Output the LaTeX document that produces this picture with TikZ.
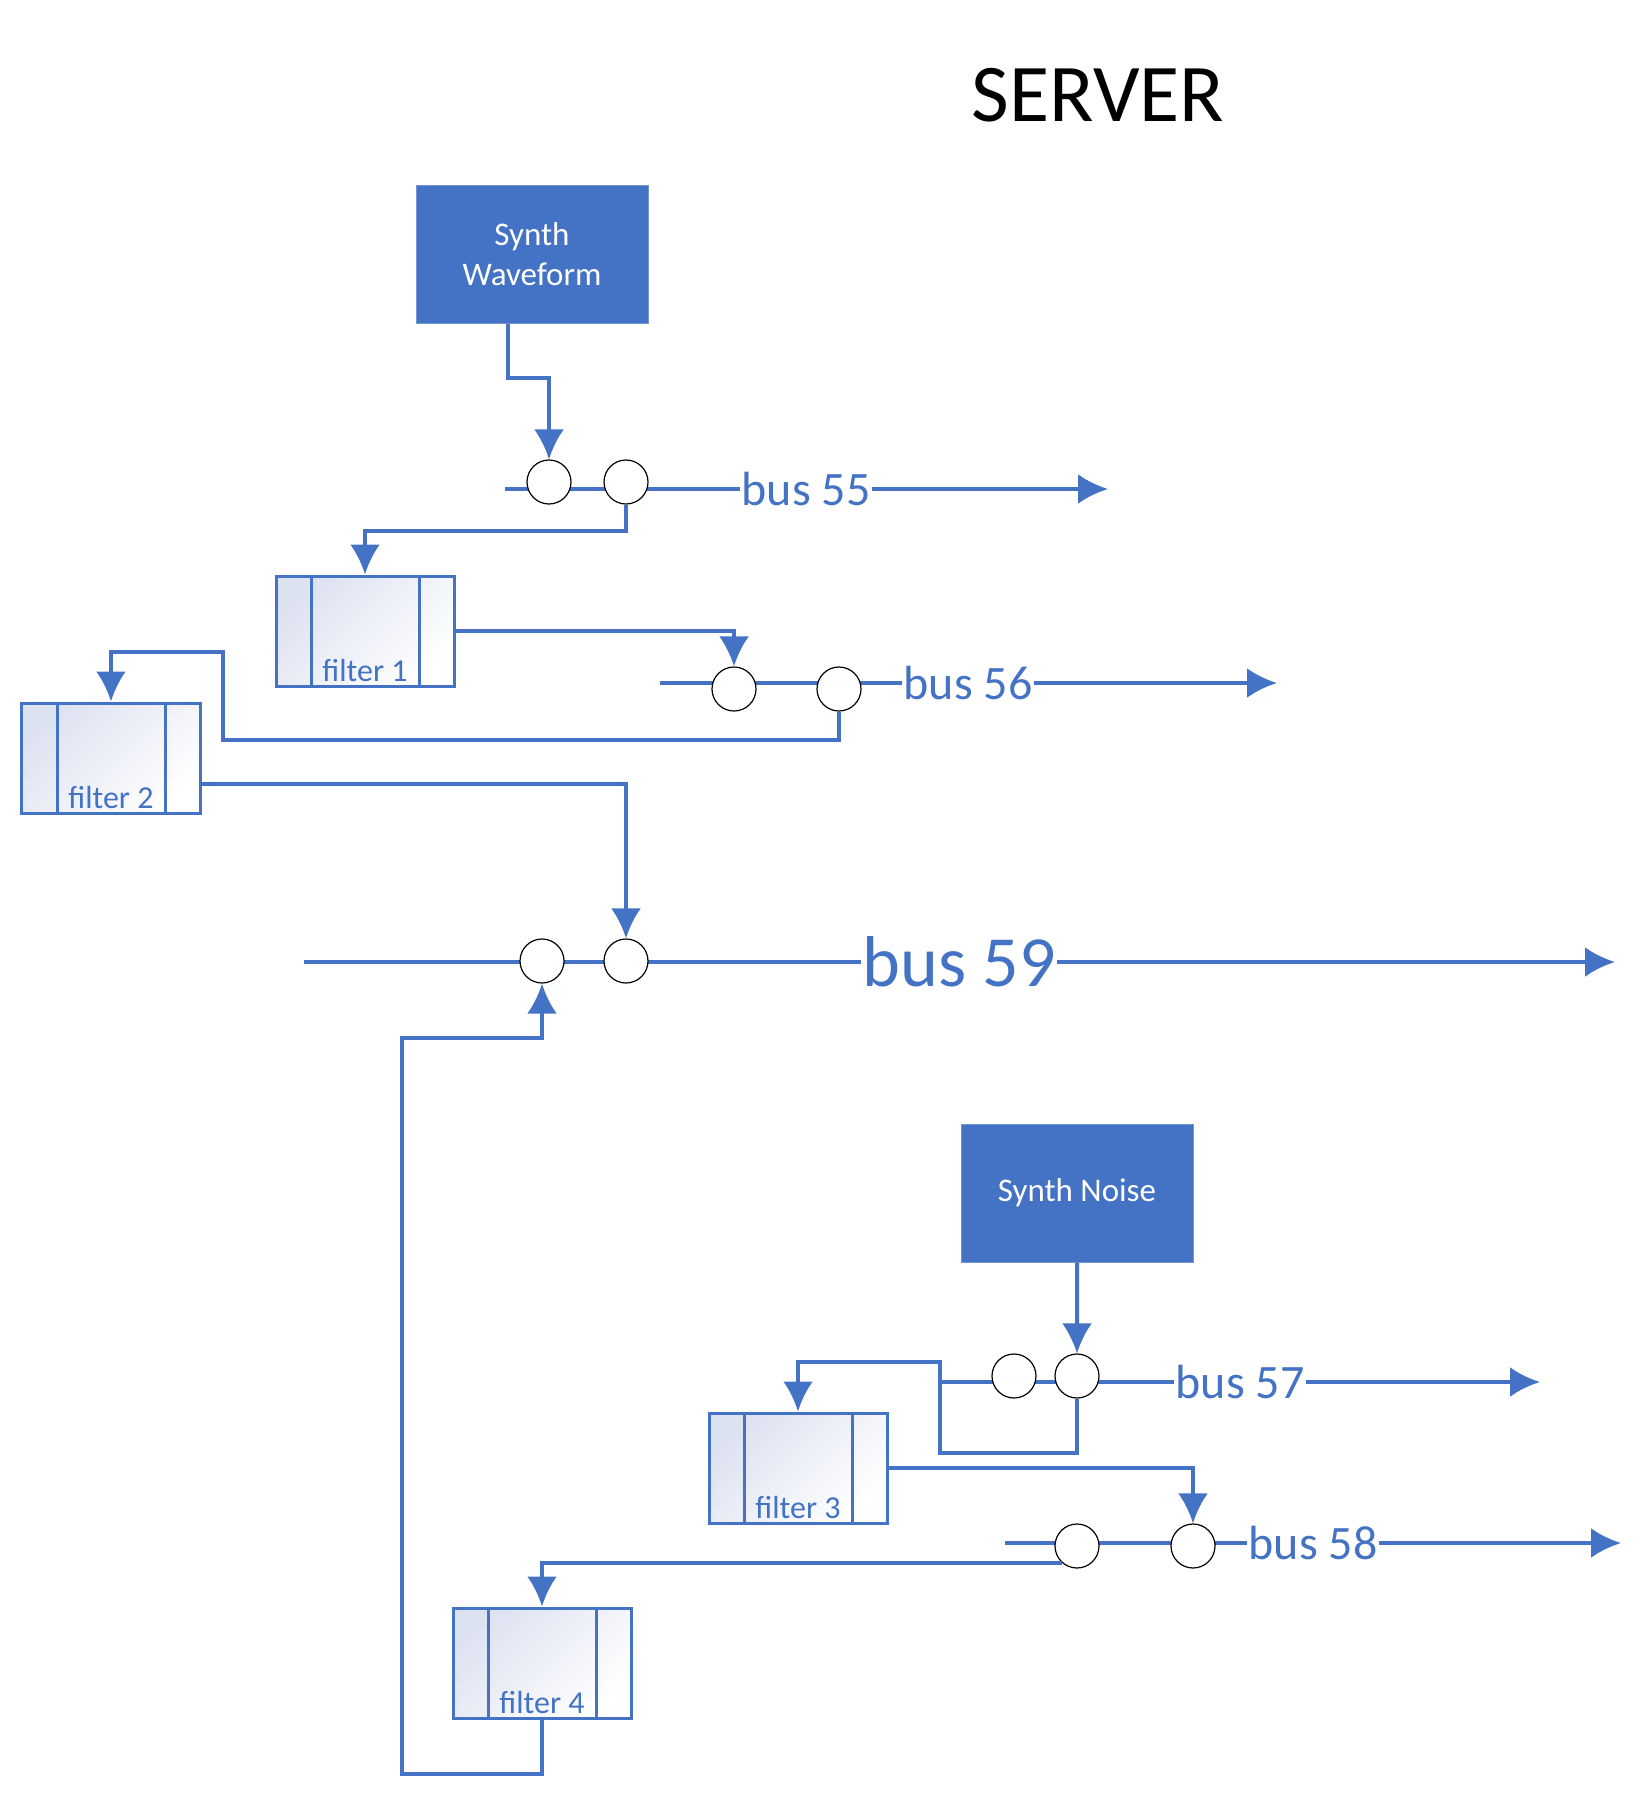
\documentclass[tikz,border=0pt]{standalone}
\usepackage{fontspec}
\setmainfont{Carlito}
\usetikzlibrary{arrows.meta, backgrounds}
\definecolor{busblue}{HTML}{4472C4}
\definecolor{filtershade}{HTML}{DDE2F1}
\tikzstyle{synth} = [rectangle, draw=busblue!75!white, line width=1bp, fill=busblue,
    text=white, align=center, minimum width=232bp, minimum height=138bp,
    font=\fontsize{33bp}{40bp}\selectfont]
\tikzstyle{filterbox} = [rectangle, draw=busblue, line width=3bp, top color=filtershade,
    bottom color=white, shading angle=45, minimum width=178bp, inner xsep=0pt, inner ysep=0pt,
    text height=105bp, text depth=5bp, text=busblue, font=\fontsize{32bp}{32bp}\selectfont,
    path picture={\draw [busblue, line width=3bp]
      ([xshift=35bp]path picture bounding box.north west) -- ([xshift=35bp]path picture bounding box.south west)
      ([xshift=-35bp]path picture bounding box.north east) -- ([xshift=-35bp]path picture bounding box.south east);}]
\tikzstyle{joint} = [circle, draw=black, line width=1.2bp, fill=white,
    minimum size=44bp, inner sep=0pt]
\tikzstyle{buslabel} = [text=busblue, inner sep=1bp, font=\fontsize{48bp}{48bp}\selectfont]
\tikzstyle{line} = [draw=busblue, line width=4bp, -{Latex[length=30bp, width=30bp]}]

\begin{document}
\begin{tikzpicture}[x=1bp, y=-1bp, node distance=77bp, auto]
            \useasboundingbox (0,0) rectangle (1642,1795);
            % Place nodes
            \node [font=\fontsize{82bp}{82bp}\selectfont] (title) at (1098,95) {SERVER};
            \node [synth] (wave) at (532,254) {Synth\\Waveform};
            \node [joint] (tap55a) at (549,482) {};
            \node [joint, right of=tap55a] (tap55b) {};
            \node [buslabel] (lbl55) at (806,489) {bus 55};
            \node [filterbox] (f1) at (365,631) {filter 1};
            \node [joint] (tap56a) at (734,689) {};
            \node [joint, right of=tap56a, node distance=105bp] (tap56b) {};
            \node [buslabel] (lbl56) at (968,683) {bus 56};
            \node [filterbox] (f2) at (111,758) {filter 2};
            \node [joint] (tap59a) at (542,961) {};
            \node [joint, right of=tap59a, node distance=84bp] (tap59b) {};
            \node [buslabel, font=\fontsize{72bp}{72bp}\selectfont] (lbl59) at (959,962) {bus 59};
            \node [synth] (noise) at (1077,1193) {Synth Noise};
            \node [joint] (tap57a) at (1014,1376) {};
            \node [joint, right of=tap57a, node distance=63bp] (tap57b) {};
            \node [buslabel] (lbl57) at (1240,1382) {bus 57};
            \node [filterbox] (f3) at (798,1468) {filter 3};
            \node [joint] (tap58a) at (1077,1546) {};
            \node [joint, right of=tap58a, node distance=116bp] (tap58b) {};
            \node [buslabel] (lbl58) at (1313,1543) {bus 58};
            \node [filterbox] (f4) at (542,1663) {filter 4};
            % Bus ends
            \coordinate (b55) at (505,489);
            \coordinate (e55) at (1108,489);
            \coordinate (b56) at (660,683);
            \coordinate (e56) at (1277,683);
            \coordinate (b59) at (304,962);
            \coordinate (e59) at (1615,962);
            \coordinate (b57) at (940,1382);
            \coordinate (e57) at (1540,1382);
            \coordinate (b58) at (1005,1543);
            \coordinate (e58) at (1621,1543);
            % Draw edges
            \path [line] ([xshift=-24bp]wave.south) -- ++(0,54) -| (tap55a);
            \path [line] (tap55b.south) -- ++(0,26) -| (f1);
            \path [line] (f1) -| (tap56a);
            \path [line] (tap56b.south) -- ++(0,28) -- ++(-616,0) -- ++(0,-88) -| (f2);
            \path [line] ([yshift=-26bp]f2.east) -| (tap59b);
            \path [line] (f4.south) -- ++(0,54) -- ++(-140,0) -- ++(0,-736) -| (tap59a);
            \path [line] (noise) -- (tap57b);
            \path [line] (tap57b.south) -- ++(0,54) -- ++(-137,0) -- ++(0,-91) -| (f3);
            \path [line] (f3) -| (tap58b);
            \path [line] (tap58a.227) -| (f4);
            % Buses
            \begin{scope}[on background layer]
            \path [line] (b55) -- (lbl55) -- (e55);
            \path [line] (b56) -- (lbl56) -- (e56);
            \path [line] (b59) -- (lbl59) -- (e59);
            \path [line] (b57) -- (lbl57) -- (e57);
            \path [line] (b58) -- (lbl58) -- (e58);
            \end{scope}
        \end{tikzpicture}
\end{document}
